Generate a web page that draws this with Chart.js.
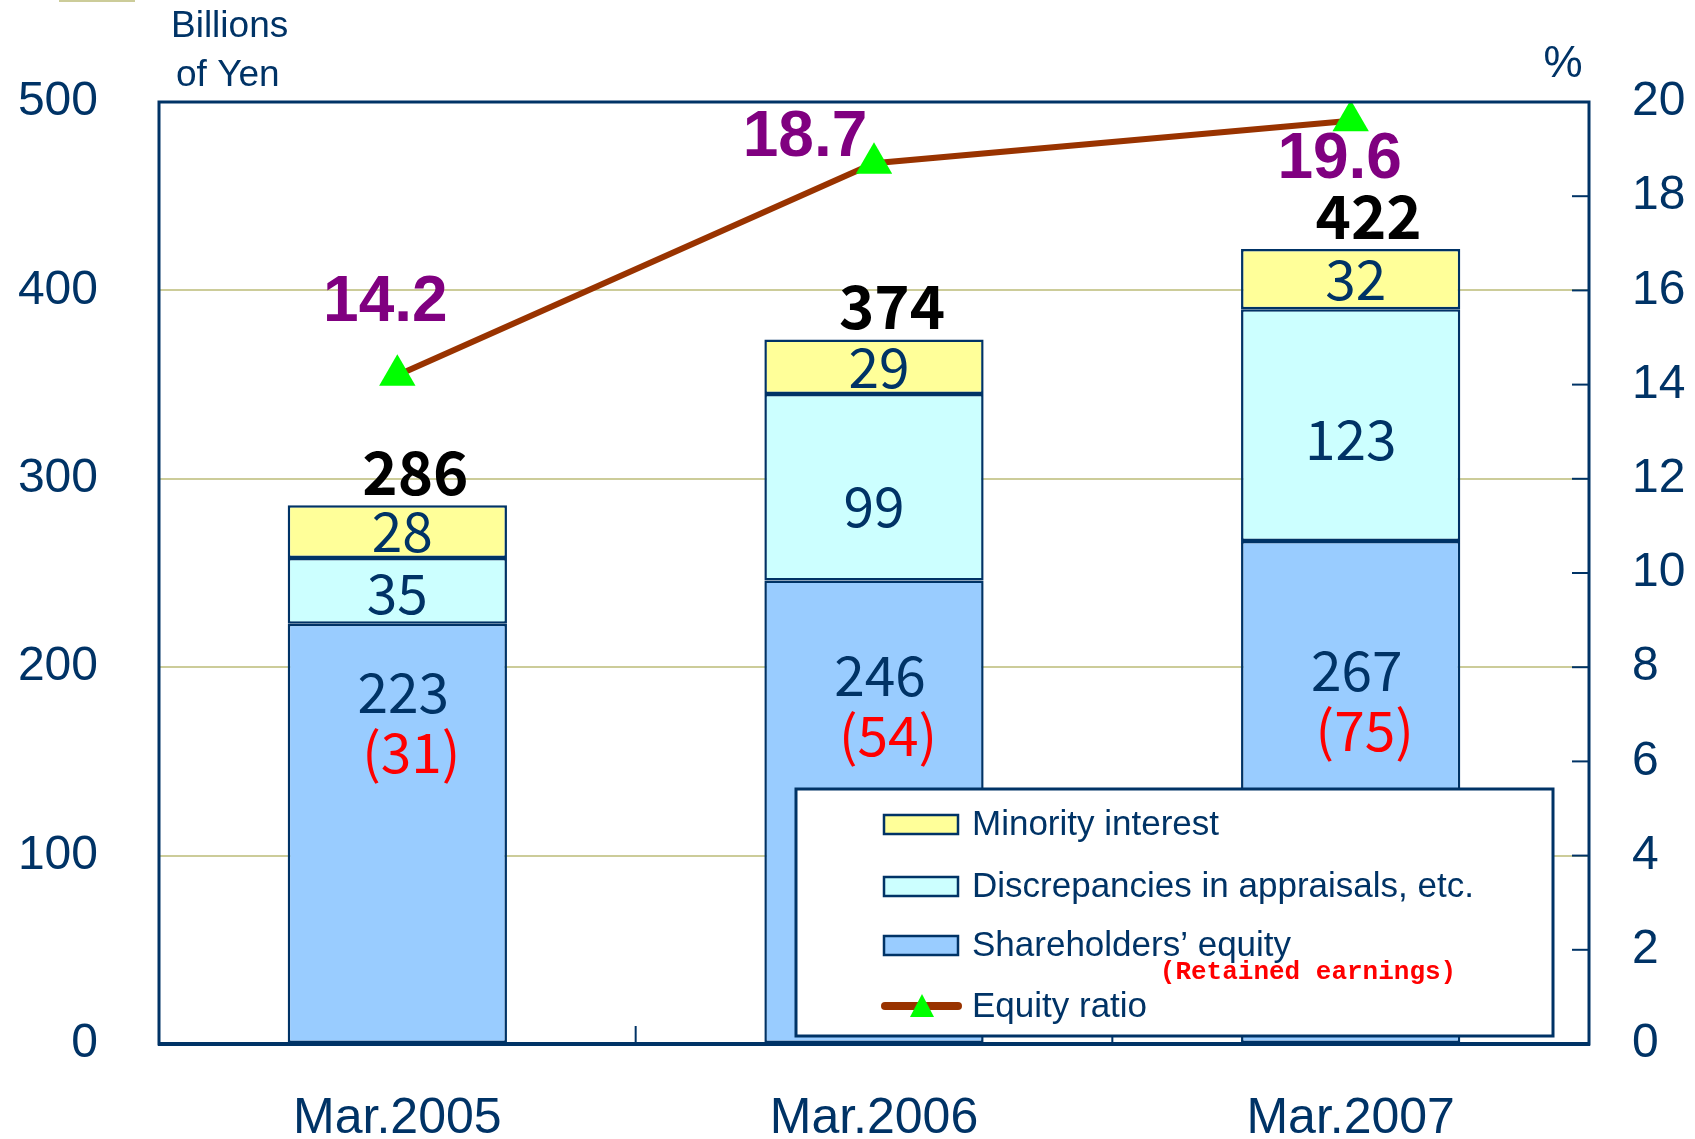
<!DOCTYPE html>
<html>
<head>
<meta charset="utf-8">
<script src="https://cdn.jsdelivr.net/npm/chart.js@4.4.1/dist/chart.umd.min.js"></script>
<style>
  html, body { margin: 0; padding: 0; background: #fff; }
  #wrap { position: relative; width: 1695px; height: 1139px; }
  #stub { position: absolute; left: 59px; top: 0; width: 76px; height: 2px; background: #cccc99; }
</style>
</head>
<body>
<div id="wrap">
  <div id="stub"></div>
  <canvas id="equityChart" width="1695" height="1139"></canvas>
</div>
<script>
// Dados do gráfico
const categories = ['Mar.2005', 'Mar.2006', 'Mar.2007'];
const shareholdersEquity = [223, 246, 267];
const discrepancies = [35, 99, 123];
const minorityInterest = [28, 29, 32];
const retainedEarnings = [31, 54, 75];
const totals = [286, 374, 422];
const equityRatio = [14.2, 18.7, 19.6];

// Cores e fontes
const NAVY = '#003366';
const C_EQUITY = '#99ccff';
const C_DISC = '#ccffff';
const C_MINOR = '#ffff99';
const C_LINE = '#993300';
const C_MARK = '#00ff00';
const C_GRID = '#cccc99';
const SANS = '"Liberation Sans", Arial, sans-serif';
const JP = '"Noto Sans CJK JP", "Liberation Sans", sans-serif';

// Deslocamentos dos rótulos (px)
const equityLabelDy = [68, 95, 129];
const discLabelDy = [2, 19, 14];
const ratioLabelOffset = [[-12, -72], [-69, -25], [-11, 40]];

function text(ctx, str, x, y, font, color, align) {
    ctx.font = font;
    ctx.fillStyle = color;
    ctx.textAlign = align || 'center';
    ctx.textBaseline = 'middle';
    ctx.fillText(str, x, y);
}

// Moldura, marcas, legenda e rótulos
const decorPlugin = {
    id: 'decor',
    afterDatasetsDraw(chart) {
        const ctx = chart.ctx;
        const a = chart.chartArea;
        const xs = chart.scales.x;
        const y2 = chart.scales.y2;
        ctx.save();

        // moldura da área do gráfico
        ctx.strokeStyle = NAVY;
        ctx.lineWidth = 3;
        ctx.strokeRect(a.left, a.top, a.right - a.left, a.bottom - a.top);
        ctx.lineWidth = 4;
        ctx.beginPath();
        ctx.moveTo(a.left - 1, a.bottom);
        ctx.lineTo(a.right + 1, a.bottom);
        ctx.stroke();

        // marcas internas do eixo direito
        ctx.lineWidth = 2;
        y2.ticks.forEach(t => {
            const py = y2.getPixelForValue(t.value);
            ctx.beginPath();
            ctx.moveTo(a.right - 17, py);
            ctx.lineTo(a.right, py);
            ctx.stroke();
        });
        // marcas entre categorias
        for (let i = 0; i < categories.length - 1; i++) {
            const px = (xs.getPixelForValue(i) + xs.getPixelForValue(i + 1)) / 2;
            ctx.beginPath();
            ctx.moveTo(px, a.bottom);
            ctx.lineTo(px, a.bottom - 18);
            ctx.stroke();
        }

        // legenda
        const lx = 796, ly = 789, lw = 757, lh = 247;
        ctx.fillStyle = '#ffffff';
        ctx.fillRect(lx, ly, lw, lh);
        ctx.strokeStyle = NAVY;
        ctx.lineWidth = 3;
        ctx.strokeRect(lx, ly, lw, lh);
        const items = [
            ['Minority interest', C_MINOR],
            ['Discrepancies in appraisals, etc.', C_DISC],
            ["Shareholders\u2019 equity", C_EQUITY]
        ];
        const rowY = [824, 886, 945, 1006];
        items.forEach((it, i) => {
            ctx.fillStyle = it[1];
            ctx.fillRect(884, rowY[i] - 9, 74, 19);
            ctx.strokeStyle = NAVY;
            ctx.lineWidth = 2.5;
            ctx.strokeRect(884, rowY[i] - 9, 74, 19);
            text(ctx, it[0], 972, rowY[i] + 1, '35px ' + SANS, NAVY, 'left');
        });
        text(ctx, '(Retained earnings)', 1308, 972, 'bold 26px "Liberation Mono", "DejaVu Sans Mono", monospace', '#ff0000');
        ctx.strokeStyle = C_LINE;
        ctx.lineWidth = 8;
        ctx.lineCap = 'round';
        ctx.beginPath();
        ctx.moveTo(885, rowY[3]);
        ctx.lineTo(958, rowY[3]);
        ctx.stroke();
        ctx.fillStyle = C_MARK;
        ctx.beginPath();
        ctx.moveTo(922, rowY[3] - 12);
        ctx.lineTo(934, rowY[3] + 11);
        ctx.lineTo(910, rowY[3] + 11);
        ctx.closePath();
        ctx.fill();
        text(ctx, 'Equity ratio', 972, rowY[3] + 1, '35px ' + SANS, NAVY, 'left');

        // rótulos das barras
        const mEq = chart.getDatasetMeta(0).data;
        const mDisc = chart.getDatasetMeta(1).data;
        const mMin = chart.getDatasetMeta(2).data;
        const mLine = chart.getDatasetMeta(3).data;
        categories.forEach((c, i) => {
            const eq = mEq[i];
            text(ctx, String(shareholdersEquity[i]), eq.x + 6, eq.y + equityLabelDy[i], '55px ' + JP, NAVY);
            text(ctx, '(' + retainedEarnings[i] + ')', eq.x + 14, eq.y + equityLabelDy[i] + 60, '55px ' + JP, '#ff0000');
            const d = mDisc[i];
            text(ctx, String(discrepancies[i]), d.x, (d.y + d.base) / 2 + discLabelDy[i], '55px ' + JP, NAVY);
            const m = mMin[i];
            text(ctx, String(minorityInterest[i]), m.x + 5, (m.y + m.base) / 2, '55px ' + JP, NAVY);
            text(ctx, String(totals[i]), m.x + 18, m.y - 33, 'bold 60px ' + JP, '#000000');
            const p = mLine[i];
            text(ctx, equityRatio[i].toFixed(1), p.x + ratioLabelOffset[i][0], p.y + ratioLabelOffset[i][1], 'bold 64px ' + SANS, '#800080');
        });

        // unidades dos eixos
        text(ctx, 'Billions', 171, 27, '37px ' + SANS, NAVY, 'left');
        text(ctx, 'of Yen', 176, 76, '37px ' + SANS, NAVY, 'left');
        text(ctx, '%', 1563, 65, '44px ' + SANS, NAVY);

        ctx.restore();
    }
};

const ctx = document.getElementById('equityChart').getContext('2d');
const chart = new Chart(ctx, {
    type: 'bar',
    data: {
        labels: categories,
        datasets: [
            {
                label: "Shareholders' equity",
                data: shareholdersEquity,
                backgroundColor: C_EQUITY,
                borderColor: NAVY,
                borderWidth: 2.5,
                borderSkipped: false,
                yAxisID: 'y',
                order: 1
            },
            {
                label: 'Discrepancies in appraisals, etc.',
                data: discrepancies,
                backgroundColor: C_DISC,
                borderColor: NAVY,
                borderWidth: 2.5,
                borderSkipped: false,
                yAxisID: 'y',
                order: 1
            },
            {
                label: 'Minority interest',
                data: minorityInterest,
                backgroundColor: C_MINOR,
                borderColor: NAVY,
                borderWidth: 2.5,
                borderSkipped: false,
                yAxisID: 'y',
                order: 1
            },
            {
                type: 'line',
                label: 'Equity ratio',
                data: equityRatio,
                borderColor: C_LINE,
                borderWidth: 6,
                pointStyle: 'triangle',
                pointRadius: 21,
                pointBackgroundColor: C_MARK,
                pointBorderWidth: 0,
                tension: 0,
                fill: false,
                yAxisID: 'y2',
                order: 0
            }
        ]
    },
    options: {
        responsive: false,
        animation: false,
        devicePixelRatio: 1,
        layout: { padding: { top: 102, left: 0, right: 0, bottom: 0 } },
        datasets: { bar: { barPercentage: 0.46, categoryPercentage: 1.0 } },
        plugins: { legend: { display: false }, tooltip: { enabled: false } },
        scales: {
            x: {
                stacked: true,
                grid: { display: false, drawTicks: false },
                border: { display: false },
                ticks: { color: NAVY, font: { family: SANS, size: 50 }, padding: 45 },
                afterFit: s => { s.height = 95; }
            },
            y: {
                stacked: true,
                position: 'left',
                min: 0,
                max: 500,
                ticks: { stepSize: 100, color: NAVY, font: { family: SANS, size: 48 }, padding: 61 },
                grid: { color: C_GRID, lineWidth: 2, drawTicks: false },
                border: { display: false },
                afterFit: s => { s.width = 159; }
            },
            y2: {
                position: 'right',
                min: 0,
                max: 20,
                ticks: { stepSize: 2, color: NAVY, font: { family: SANS, size: 48 }, padding: 43 },
                grid: { drawOnChartArea: false, drawTicks: false },
                border: { display: false },
                afterFit: s => { s.width = 106; }
            }
        }
    },
    plugins: [decorPlugin]
});
</script>
</body>
</html>
